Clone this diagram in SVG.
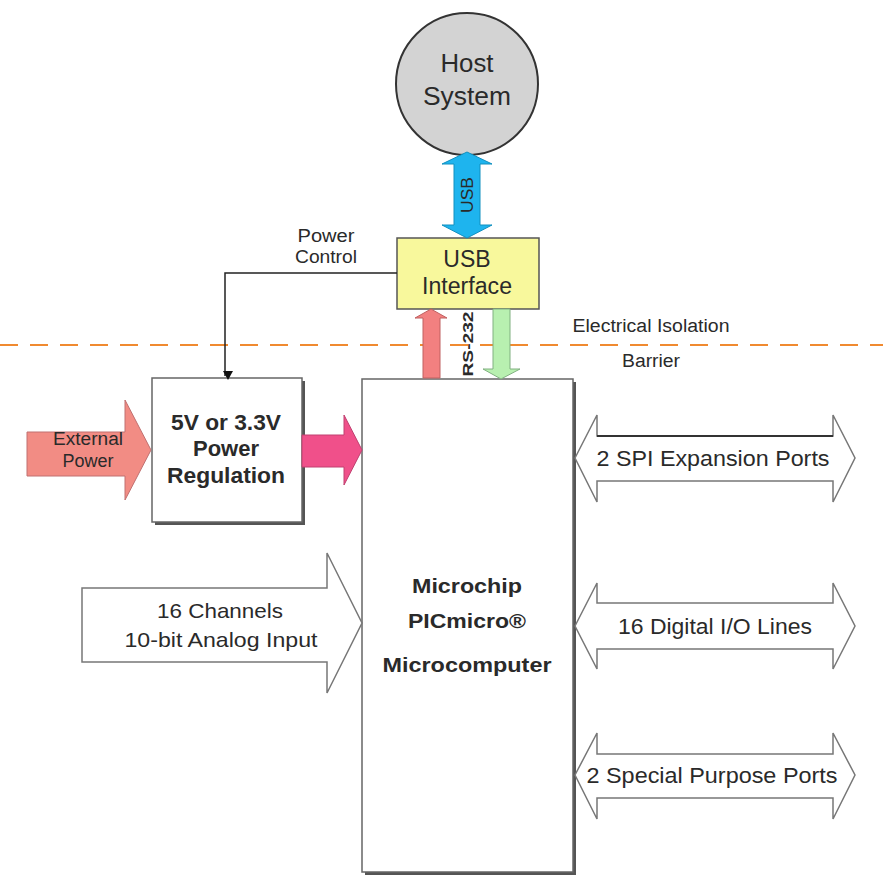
<svg xmlns="http://www.w3.org/2000/svg" width="883" height="877" viewBox="0 0 883 877">
<defs>
<style>
text{font-family:"Liberation Sans",Arial,sans-serif;fill:#2a2a2a;text-anchor:middle}
.b{font-weight:bold}
.box{fill:#fff;stroke:#666;stroke-width:1.5}
.sh{fill:#555}
.io{fill:#fff;stroke:#777;stroke-width:1.5}
</style>
<marker id="ah" markerWidth="10" markerHeight="10" refX="5" refY="8" orient="auto" markerUnits="userSpaceOnUse">
<path d="M0,0 L10,0 L5,9 z" fill="#111" transform="rotate(-90 5 5)"/>
</marker>
</defs>
<rect width="883" height="877" fill="#fff"/>

<g id="barrier">
<line x1="0" y1="345" x2="883" y2="345" stroke="#F08A30" stroke-width="2" stroke-dasharray="18 12"/>
<text x="651" y="332" font-size="18" textLength="157" lengthAdjust="spacingAndGlyphs">Electrical Isolation</text>
<text x="651" y="367" font-size="18" textLength="58" lengthAdjust="spacingAndGlyphs">Barrier</text>
</g>

<g id="host">
<circle cx="467" cy="84" r="71" fill="#D3D3D3" stroke="#333" stroke-width="2"/>
<text x="467" y="72" font-size="26" textLength="53" lengthAdjust="spacingAndGlyphs">Host</text>
<text x="467" y="105" font-size="26" textLength="88" lengthAdjust="spacingAndGlyphs">System</text>
</g>

<g id="usb-interface">
<rect x="397" y="238" width="142" height="71" fill="#F8F89C" stroke="#555" stroke-width="1.5"/>
<text x="467" y="267" font-size="23">USB</text>
<text x="467" y="294" font-size="23" textLength="90" lengthAdjust="spacingAndGlyphs">Interface</text>
</g>

<g id="power-regulation">
<rect class="sh" x="155" y="381" width="150" height="144"/>
<rect class="box" x="152" y="378" width="150" height="144"/>
<text class="b" x="226" y="430" font-size="22" textLength="110" lengthAdjust="spacingAndGlyphs">5V or 3.3V</text>
<text class="b" x="226" y="456" font-size="22">Power</text>
<text class="b" x="226" y="483" font-size="22" textLength="118" lengthAdjust="spacingAndGlyphs">Regulation</text>
</g>

<g id="microcomputer">
<rect class="sh" x="365" y="382" width="211" height="493"/>
<rect class="box" x="362" y="379" width="211" height="493"/>
<text class="b" x="467" y="593" font-size="21" textLength="110" lengthAdjust="spacingAndGlyphs">Microchip</text>
<text class="b" x="467" y="628" font-size="21" textLength="118" lengthAdjust="spacingAndGlyphs">PICmicro®</text>
<text class="b" x="467" y="672" font-size="21" textLength="169" lengthAdjust="spacingAndGlyphs">Microcomputer</text>
</g>

<g id="connectors">
<path d="M467,152 L492,164 L480,164 L480,225 L492,225 L467,238 L442,225 L454,225 L454,164 L442,164 Z" fill="#1EB4EE" stroke="#1090C0" stroke-width="1"/>
<text x="0" y="0" font-size="16" textLength="36" lengthAdjust="spacingAndGlyphs" transform="translate(473 195) rotate(-90)">USB</text>

<polyline points="397,273 225,273 225,376" fill="none" stroke="#222" stroke-width="1.5" marker-end="url(#ah)"/>
<text x="326" y="242" font-size="18" textLength="57" lengthAdjust="spacingAndGlyphs">Power</text>
<text x="326" y="263" font-size="18" textLength="62" lengthAdjust="spacingAndGlyphs">Control</text>

<path d="M431,309 L447,318 L440,318 L440,378 L423,378 L423,318 L415,318 Z" fill="#F28080" stroke="#C06060" stroke-width="1"/>
<path d="M501,379 L520,369 L510,369 L510,309 L493,309 L493,369 L483,369 Z" fill="#B8F0B0" stroke="#80B080" stroke-width="1"/>
<text class="b" x="0" y="0" font-size="15" textLength="65" lengthAdjust="spacingAndGlyphs" transform="translate(473 344) rotate(-90)">RS-232</text>

<path d="M27,432 L125,432 L125,400 L151,450 L125,500 L125,476 L27,476 Z" fill="#F28C84" stroke="#C07070" stroke-width="1"/>
<text x="88" y="445" font-size="18" textLength="70" lengthAdjust="spacingAndGlyphs">External</text>
<text x="88" y="467" font-size="18">Power</text>

<path d="M302,435 L344,435 L344,415 L362,450 L344,485 L344,467 L302,467 Z" fill="#F0508A" stroke="#C04070" stroke-width="1"/>

<path class="io" d="M82,588 L327,588 L327,553 L362,623 L327,693 L327,662 L82,662 Z"/>
<text x="220" y="618" font-size="21" textLength="126" lengthAdjust="spacingAndGlyphs">16 Channels</text>
<text x="221" y="647" font-size="21" textLength="193" lengthAdjust="spacingAndGlyphs">10-bit Analog Input</text>

<path class="io" d="M575,458 L597,415 L597,436 L833,436 L833,415 L855,458 L833,502 L833,481 L597,481 L597,502 Z"/>
<line x1="597" y1="436" x2="833" y2="436" stroke="#333" stroke-width="2"/>
<text x="713" y="466" font-size="22" textLength="233" lengthAdjust="spacingAndGlyphs">2 SPI Expansion Ports</text>

<path class="io" d="M575,626 L597,583 L597,603 L833,603 L833,583 L855,626 L833,669 L833,649 L597,649 L597,669 Z"/>
<text x="715" y="634" font-size="22" textLength="194" lengthAdjust="spacingAndGlyphs">16 Digital I/O Lines</text>

<path class="io" d="M575,775 L597,733 L597,754 L833,754 L833,733 L855,775 L833,819 L833,798 L597,798 L597,819 Z"/>
<text x="712" y="783" font-size="22" textLength="251" lengthAdjust="spacingAndGlyphs">2 Special Purpose Ports</text>
</g>
</svg>
